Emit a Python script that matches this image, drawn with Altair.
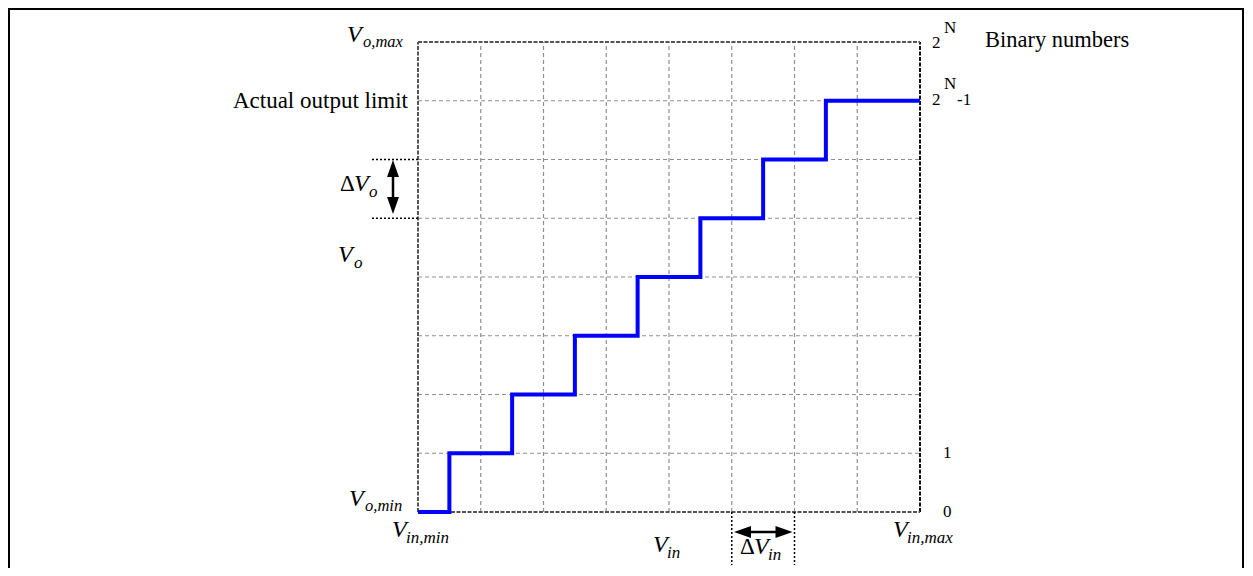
import altair as alt
import pandas as pd

# ---- data values ----
step_x = [0, 0.5, 1.5, 2.5, 3.5, 4.5, 5.5, 6.5, 8]
step_y = [0, 1, 2, 3, 4, 5, 6, 7, 7]
grid_x = [1, 2, 3, 4, 5, 6, 7]
grid_y = [1, 2, 3, 4, 5, 6, 7]
right_ticks = ["0", "1"]
right_tick_levels = [0, 1]

# plot geometry (pixels) used to map annotation spots to data units
L, T, W, H = 410, 34, 502, 470
SVG_W, SVG_H = 1236, 560
def X(px):
    return (px - (L + 8)) / (W / 8)
def Y(py):
    return ((T + 8 + H) - py) / (H / 8)

xs = alt.Scale(domain=[0, 8], nice=False, zero=False)
ys = alt.Scale(domain=[0, 8], nice=False, zero=False)

def xq(f="x"):
    return alt.X(f"{f}:Q", scale=xs, axis=None)
def yq(f="y"):
    return alt.Y(f"{f}:Q", scale=ys, axis=None)

# outer frame
frame = alt.Chart(pd.DataFrame({"a": [0]})).mark_rect(
    fillOpacity=0, stroke="black", strokeWidth=2
).encode(x=alt.value(-(L - 1)), x2=alt.value(SVG_W - L - 1), y=alt.value(-(T - 1)), y2=alt.value(600))

# grid
gv = pd.DataFrame({"x": grid_x, "y": [0] * 7, "y2": [8] * 7})
gh = pd.DataFrame({"y": grid_y, "x": [0] * 7, "x2": [8] * 7})
grid_v = alt.Chart(gv).mark_rule(color="#8f8f8f", strokeWidth=1.2, strokeDash=[4, 3]).encode(
    x=xq(), y=yq(), y2="y2:Q")
grid_h = alt.Chart(gh).mark_rule(color="#8f8f8f", strokeWidth=1.2, strokeDash=[4, 3]).encode(
    y=yq(), x=xq(), x2="x2:Q")

# plot frame
fr = pd.DataFrame({"x": [0, 8, 0, 0], "x2": [0, 8, 8, 8],
                   "y": [0, 0, 0, 8], "y2": [8, 8, 0, 8],
                   "c": ["#555555", "#111111", "#555555", "#555555"]})
pframe = alt.Chart(fr).mark_rule(strokeWidth=2, strokeDash=[4, 1.5]).encode(
    x=xq(), x2="x2:Q", y=yq(), y2="y2:Q", color=alt.Color("c:N", scale=None))

# staircase
steps = alt.Chart(pd.DataFrame({"x": step_x, "y": step_y})).mark_line(
    interpolate="step-after", color="#0000ff", strokeWidth=4).encode(x=xq(), y=yq())

# dotted guide lines for deltas
dots = pd.DataFrame({
    "x": [X(372), X(372), 5, 6],
    "x2": [0, 0, 5, 6],
    "y": [6, 5, 0, 0],
    "y2": [6, 5, Y(565), Y(565)],
})
dotted = alt.Chart(dots).mark_rule(color="black", strokeWidth=1.5, strokeDash=[2, 2]).encode(
    x=xq(), x2="x2:Q", y=yq(), y2="y2:Q")

# arrow shafts
shafts = pd.DataFrame({
    "x": [X(393), X(742)], "x2": [X(393), X(784)],
    "y": [Y(168), Y(532)], "y2": [Y(206), Y(532)],
})
shaft = alt.Chart(shafts).mark_rule(color="black", strokeWidth=2.5).encode(
    x=xq(), x2="x2:Q", y=yq(), y2="y2:Q")

heads = pd.DataFrame({
    "x": [X(393), X(393), X(742.5), X(784)],
    "y": [Y(168.5), Y(205.5), Y(532), Y(532)],
    "ang": [0, 180, 270, 90],
})
head = alt.Chart(heads).mark_point(
    shape="M0,-1L0.7,1L-0.7,1Z", filled=True, color="black", opacity=1, size=289, strokeWidth=0
).encode(x=xq(), y=yq(), angle=alt.Angle("ang:Q", scale=None))

# text annotations: (left px, baseline px, text, size)
FONT = "Liberation Serif"
italic_items = [
    (347, 42, "V", 24), (363, 47, "o,max", 16.5),
    (354, 191, "V", 24), (369, 197, "o", 17),
    (338, 262, "V", 24), (354, 268, "o", 17),
    (349, 506, "V", 24), (365, 511, "o,min", 16.5),
    (392, 537, "V", 24), (406, 543, "in,min", 17),
    (653, 552, "V", 24), (667, 558, "in", 17),
    (754, 554, "V", 24), (768, 560, "in", 17),
    (893, 537, "V", 24), (907, 543, "in,max", 17),
]
normal_items = [
    (340, 191, "Δ", 23), (740, 554, "Δ", 23),
    (985, 47, "Binary numbers", 22.5),
    (932, 48, "2", 17), (944, 33, "N", 17),
    (932, 105, "2", 17), (944, 89, "N", 17), (957, 105, "-1", 17),
]

def tdf(items):
    return pd.DataFrame({
        "x": [X(a) for a, b, c, d in items],
        "y": [Y(b) for a, b, c, d in items],
        "t": [c for a, b, c, d in items],
        "s": [d for a, b, c, d in items],
    })

txt_i = alt.Chart(tdf(italic_items)).mark_text(
    font=FONT, fontStyle="italic", align="left", baseline="alphabetic", color="black"
).encode(x=xq(), y=yq(), text="t:N", size=alt.Size("s:Q", scale=None))
txt_n = alt.Chart(tdf(normal_items)).mark_text(
    font=FONT, align="left", baseline="alphabetic", color="black"
).encode(x=xq(), y=yq(), text="t:N", size=alt.Size("s:Q", scale=None))

tick_df = pd.DataFrame({"x": [X(943)] * 2, "y": right_tick_levels, "t": right_ticks})
txt_ticks = alt.Chart(tick_df).mark_text(
    font=FONT, align="left", baseline="middle", fontSize=17, color="black"
).encode(x=xq(), y=yq(), text="t:N")

act = alt.Chart(pd.DataFrame({"x": [X(408)], "y": [7], "t": ["Actual output limit"]})).mark_text(
    font=FONT, align="right", baseline="middle", fontSize=23, color="black"
).encode(x=xq(), y=yq(), text="t:N")

chart = alt.layer(
    frame, grid_v, grid_h, pframe, steps, dotted, shaft, head, txt_i, txt_n, txt_ticks, act
).properties(
    width=W, height=H,
    autosize=alt.AutoSizeParams(type="none"),
    padding={"left": L, "top": T, "right": SVG_W - L - W, "bottom": SVG_H - T - H},
    background="white",
).configure_view(strokeOpacity=0)

chart.save("out.html", embed_options={"renderer": "svg", "actions": False})
